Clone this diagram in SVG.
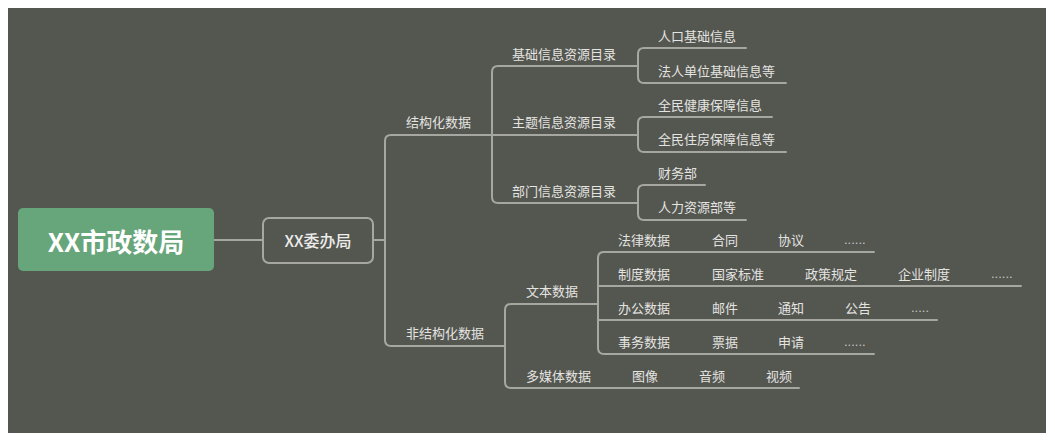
<svg xmlns="http://www.w3.org/2000/svg" width="1055" height="441" viewBox="0 0 1055 441">
<style>
.bg{fill:#545650}
.ln{fill:none;stroke:#a6a7a1;stroke-width:2;stroke-linecap:round}
.t{font-family:"Noto Sans CJK SC","Noto Sans",sans-serif;font-size:13px;fill:#e4e4e1;dominant-baseline:central}
.dot{font-family:"Liberation Sans",sans-serif;font-size:13px;fill:#c8c8c4;dominant-baseline:central}
</style>
<rect x="0" y="0" width="1055" height="441" fill="#ffffff"/>
<rect class="bg" x="8" y="8" width="1038" height="425"/>
<g id="connectors">
<path class="ln" d="M214,240 H263"/>
<path class="ln" d="M373,240 H385"/>
<path class="ln" d="M638,135 H391 Q385,135 385,141 V340 Q385,346 391,346 H505"/>
<path class="ln" d="M638,66 H498 Q492,66 492,72 V197 Q492,203 498,203 H638"/>
<path class="ln" d="M746,48 H644 Q638,48 638,54 V77 Q638,83 644,83 H786"/>
<path class="ln" d="M772,117 H644 Q638,117 638,123 V146 Q638,152 644,152 H786"/>
<path class="ln" d="M705,185 H644 Q638,185 638,191 V214 Q638,220 644,220 H746"/>
<path class="ln" d="M598,304 H511 Q505,304 505,310 V382 Q505,388 511,388 H799"/>
<path class="ln" d="M874,252 H604 Q598,252 598,258 V348 Q598,354 604,354 H874"/>
<path class="ln" d="M598,286 H1021"/>
<path class="ln" d="M598,320 H937"/>
</g>
<g id="root">
<rect x="18" y="208" width="196" height="63" rx="5" fill="#67a57b"/>
<text x="116" y="240" text-anchor="middle" dominant-baseline="central" font-family="Noto Sans CJK SC,Noto Sans,sans-serif" font-size="26" font-weight="bold" fill="#ffffff">XX市政数局</text>
</g>
<g id="wbj">
<rect x="263" y="218" width="110" height="45" rx="6" fill="#545650" stroke="#a6a7a1" stroke-width="2"/>
<text x="318" y="240" text-anchor="middle" dominant-baseline="central" font-family="Noto Sans CJK SC,Noto Sans,sans-serif" font-size="16" font-weight="500" fill="#ececea">XX委办局</text>
</g>
<g id="jghsj"><text class="t" x="406" y="121">结构化数据</text></g>
<g id="jcxx"><text class="t" x="512" y="53">基础信息资源目录</text></g>
<g id="ztxx"><text class="t" x="512" y="121">主题信息资源目录</text></g>
<g id="bmxx"><text class="t" x="512" y="190">部门信息资源目录</text></g>
<g id="rkjc"><text class="t" x="658" y="35">人口基础信息</text></g>
<g id="frdw"><text class="t" x="658" y="70">法人单位基础信息等</text></g>
<g id="qmjk"><text class="t" x="658" y="104">全民健康保障信息</text></g>
<g id="qmzf"><text class="t" x="658" y="138">全民住房保障信息等</text></g>
<g id="cwb"><text class="t" x="658" y="172">财务部</text></g>
<g id="rlzy"><text class="t" x="658" y="206">人力资源部等</text></g>
<g id="fjghsj"><text class="t" x="406" y="332">非结构化数据</text></g>
<g id="wbsj"><text class="t" x="526" y="290">文本数据</text></g>
<g id="dmtsj"><text class="t" x="526" y="375">多媒体数据</text>
<text class="t" x="632" y="375">图像</text>
<text class="t" x="699" y="375">音频</text>
<text class="t" x="766" y="375">视频</text></g>
<g id="flsj"><text class="t" x="618" y="239">法律数据</text>
<text class="t" x="712" y="239">合同</text>
<text class="t" x="778" y="239">协议</text>
<text class="dot" x="844" y="239">......</text></g>
<g id="zdsj"><text class="t" x="618" y="273">制度数据</text>
<text class="t" x="712" y="273">国家标准</text>
<text class="t" x="805" y="273">政策规定</text>
<text class="t" x="898" y="273">企业制度</text>
<text class="dot" x="991" y="273">......</text></g>
<g id="bgsj"><text class="t" x="618" y="307">办公数据</text>
<text class="t" x="712" y="307">邮件</text>
<text class="t" x="778" y="307">通知</text>
<text class="t" x="845" y="307">公告</text>
<text class="dot" x="911" y="307">.....</text></g>
<g id="swsj"><text class="t" x="618" y="341">事务数据</text>
<text class="t" x="712" y="341">票据</text>
<text class="t" x="778" y="341">申请</text>
<text class="dot" x="844" y="341">......</text></g>
</svg>
